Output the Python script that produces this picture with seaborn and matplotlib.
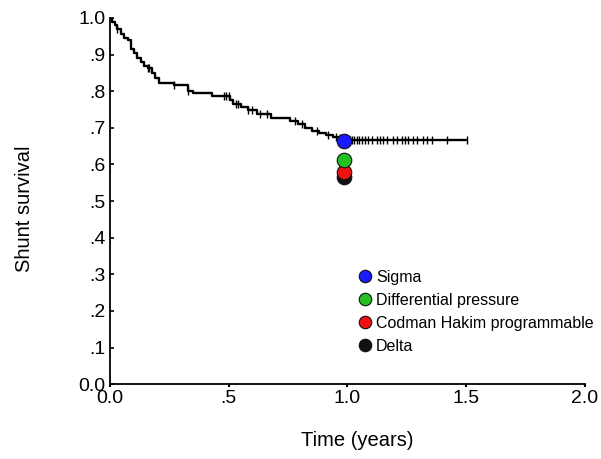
import matplotlib
matplotlib.use("Agg")
import matplotlib.pyplot as plt
import seaborn as sns
import pandas as pd
import numpy as np
from matplotlib.lines import Line2D

sns.set_theme(style="ticks")
plt.rcParams['font.family'] = ['Liberation Sans', 'DejaVu Sans']
plt.rcParams['text.color'] = 'black'
plt.rcParams['axes.labelcolor'] = 'black'
plt.rcParams['xtick.color'] = 'black'
plt.rcParams['ytick.color'] = 'black'

# Kaplan-Meier step curve (time in years, survival)
km_time = [0.00, 0.01, 0.02, 0.03, 0.045, 0.06, 0.075, 0.09, 0.10, 0.115, 0.13, 0.145,
           0.16, 0.175, 0.19, 0.205, 0.27, 0.33, 0.35, 0.43, 0.505, 0.52, 0.55,
           0.58, 0.62, 0.68, 0.76, 0.79, 0.82, 0.85, 0.88, 0.91, 0.94, 0.97, 1.00, 1.50]
km_surv = [1.000, 0.990, 0.980, 0.970, 0.955, 0.945, 0.940, 0.915, 0.905, 0.890, 0.880, 0.870,
           0.862, 0.850, 0.835, 0.822, 0.816, 0.800, 0.796, 0.787, 0.775, 0.765, 0.757,
           0.749, 0.738, 0.727, 0.718, 0.710, 0.700, 0.692, 0.686, 0.680, 0.676, 0.672, 0.666, 0.666]

# Censoring marks (time in years)
censor_time = [0.03, 0.16, 0.165, 0.27, 0.33, 0.48, 0.49, 0.50, 0.53, 0.54, 0.58, 0.60,
               0.63, 0.66, 0.78, 0.81, 0.87, 0.92, 0.95, 0.97, 0.99, 1.01, 1.02, 1.03,
               1.04, 1.05, 1.06, 1.074, 1.086, 1.103, 1.124, 1.137, 1.149, 1.166, 1.192,
               1.208, 1.229, 1.242, 1.255, 1.276, 1.293, 1.318, 1.335, 1.356, 1.419, 1.503]

# Group survival at one year
groups = ["Sigma", "Differential pressure", "Codman Hakim programmable", "Delta"]
group_time = [0.985, 0.985, 0.985, 0.985]
group_surv = [0.663, 0.613, 0.580, 0.566]
group_colors = ["#1a1aff", "#22c022", "#ee1111", "#111111"]

x_ticks = [0.0, 0.5, 1.0, 1.5, 2.0]
x_ticklabels = ["0.0", ".5", "1.0", "1.5", "2.0"]
y_ticks = [0.0, 0.1, 0.2, 0.3, 0.4, 0.5, 0.6, 0.7, 0.8, 0.9, 1.0]
y_ticklabels = ["0.0", ".1", ".2", ".3", ".4", ".5", ".6", ".7", ".8", ".9", "1.0"]

fig = plt.figure(figsize=(6.01, 4.59), dpi=100)
ax = fig.add_axes([0.183, 0.163, 0.79, 0.798])

km_df = pd.DataFrame({"time": km_time, "surv": km_surv})
sns.lineplot(data=km_df, x="time", y="surv", drawstyle="steps-post", color="black",
             linewidth=1.7, ax=ax, legend=False)

# censor marks: survival value at each censor time
cs = []
for t in censor_time:
    idx = np.searchsorted(km_time, t, side="right") - 1
    cs.append(km_surv[idx])
cens_df = pd.DataFrame({"time": censor_time, "surv": cs})
ax.scatter(cens_df["time"], cens_df["surv"], marker="|", s=30, color="black", linewidths=1.0, zorder=3)

# draw from bottom to top so Sigma is on top
for g, t, s, c in list(zip(groups, group_time, group_surv, group_colors))[::-1]:
    ax.scatter([t], [s], s=110, color=c, edgecolors="#111111", linewidths=0.8, zorder=5)

ax.set_xlim(0, 2.0)
ax.set_ylim(0, 1.0)
ax.set_xticks(x_ticks)
ax.set_xticklabels(x_ticklabels, fontsize=14)
ax.set_yticks(y_ticks)
ax.set_yticklabels(y_ticklabels, fontsize=14)
ax.tick_params(axis="x", direction="out", length=2.5, width=1.5, pad=2, color="black")
ax.tick_params(axis="y", direction="in", length=3, width=1.2, pad=3, color="black")
for sp in ["top", "right"]:
    ax.spines[sp].set_visible(False)
for sp in ["left", "bottom"]:
    ax.spines[sp].set_color("black")
    ax.spines[sp].set_linewidth(1.3)

ax.set_xlabel("Time (years)", fontsize=14.5)
ax.set_ylabel("Shunt survival", fontsize=14.5)
ax.xaxis.set_label_coords(0.521, -0.128)
ax.yaxis.set_label_coords(-0.16, 0.48)

handles = [Line2D([0], [0], marker="o", linestyle="none", markersize=9,
                  markerfacecolor=c, markeredgecolor="#111111", markeredgewidth=0.8)
           for c in group_colors]
leg = ax.legend(handles, groups, loc="upper left", bbox_to_anchor=(0.5, 0.33), frameon=False,
                fontsize=11.5, handletextpad=0.0, labelspacing=0.5, borderaxespad=0, handlelength=1.4)
for txt in leg.get_texts():
    txt.set_color("black")

fig.savefig("out.png", dpi=100)
